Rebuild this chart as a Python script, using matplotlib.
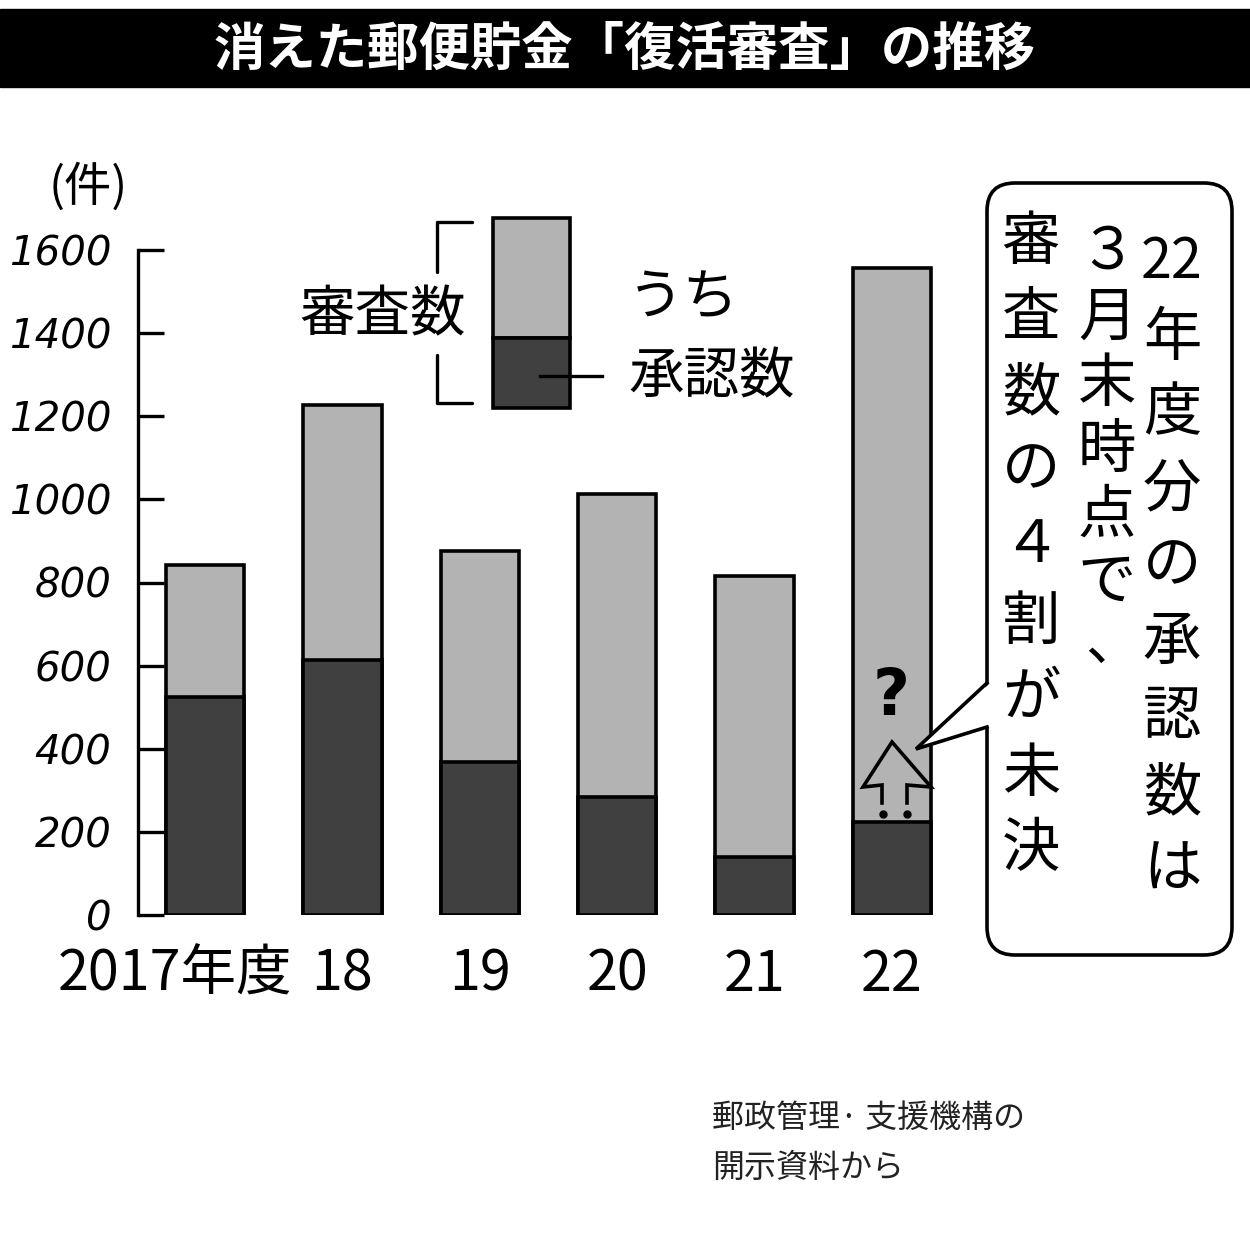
import matplotlib
matplotlib.use("Agg")
import matplotlib.pyplot as plt
from matplotlib.patches import Rectangle, FancyBboxPatch, Polygon
import numpy as np

plt.rcParams['font.family'] = ['Noto Sans CJK JP', 'DejaVu Sans']

# ---- data ----
years = ["2017年度", "18", "19", "20", "21", "22"]
review_total = [842, 1227, 876, 1013, 816, 1557]      # 審査数
approved = [524, 614, 367, 284, 140, 224]             # うち承認数
yticks = [0, 200, 400, 600, 800, 1000, 1200, 1400, 1600]
title = "消えた郵便貯金「復活審査」の推移"
unit = "(件)"
legend_total = "審査数"
legend_app1 = "うち"
legend_app2 = "承認数"
callout_cols = [
    ["22", "年", "度", "分", "の", "承", "認", "数", "は"],
    ["３", "月", "末", "時", "点", "で", "、"],
    ["審", "査", "数", "の", "４", "割", "が", "未", "決"],
]
source = "郵政管理· 支援機構の\n開示資料から"

LIGHT = "#b3b3b3"
DARK = "#404040"

W, H = 1250, 1244
fig = plt.figure(figsize=(W / 100, H / 100), dpi=100)

# ---- main chart axes (pixel geometry of reference) ----
left_px, right_px, top_px, bot_px = 138, 960, 250, 915
ax = fig.add_axes([left_px / W, (H - bot_px) / H,
                   (right_px - left_px) / W, (bot_px - top_px) / H])
ax.patch.set_visible(False)
x = np.arange(len(years))
step = 137.4
ax.set_xlim((left_px - 205) / step, (right_px - 205) / step)
ax.set_ylim(0, 1600)

bw = 0.57
ax.bar(x, review_total, width=bw, color=LIGHT, edgecolor="black", linewidth=2.6, zorder=2)
ax.bar(x, approved, width=bw, color=DARK, edgecolor="black", linewidth=2.6, zorder=3)

for s in ["top", "right", "bottom"]:
    ax.spines[s].set_visible(False)
ax.spines["left"].set_linewidth(2.4)
ax.set_xticks([])
ax.set_yticks(yticks)
ax.set_yticklabels([str(v) for v in yticks],
                   fontfamily="DejaVu Sans", fontstyle="oblique", fontsize=29)
ax.tick_params(axis="y", direction="in", length=19, width=2.4, pad=19)

xt = ax.get_xaxis_transform()
for i, lab in enumerate(years):
    off = -0.22 if i == 0 else 0.0
    ax.text(x[i] + off, -0.090, lab, transform=xt, ha="center", va="center",
            fontsize=40)

# ---- overlay in pixel coordinates ----
ov = fig.add_axes([0, 0, 1, 1])
ov.set_xlim(0, W)
ov.set_ylim(H, 0)
ov.axis("off")
ov.patch.set_visible(False)

# title bar
ov.add_patch(Rectangle((0, 9), W, 78, color="black", zorder=1))
ov.text(625, 49, title, color="white", fontsize=37, fontweight="bold",
        ha="center", va="center", zorder=2)

# unit
ov.text(88, 188, unit, fontsize=34, ha="center", va="center")

# legend key
ov.add_patch(Rectangle((493, 218), 77, 120, facecolor=LIGHT, edgecolor="black", lw=2.6))
ov.add_patch(Rectangle((493, 338), 77, 70, facecolor=DARK, edgecolor="black", lw=2.6))
ov.plot([472, 437, 437], [222, 222, 272], color="black", lw=2.4, solid_capstyle="round")
ov.plot([437, 437, 472], [355, 403, 403], color="black", lw=2.4, solid_capstyle="round")
ov.plot([540, 602], [376, 376], color="black", lw=2.4)
ov.text(383, 316, legend_total, fontsize=40, ha="center", va="center")
ov.text(628, 298, legend_app1, fontsize=40, ha="left", va="center")
ov.text(628, 378, legend_app2, fontsize=40, ha="left", va="center")

# callout box
box = FancyBboxPatch((987, 183), 245, 772,
                     boxstyle="round,pad=0,rounding_size=28",
                     facecolor="white", edgecolor="black", lw=2.6, zorder=5)
ov.add_patch(box)
ov.add_patch(Polygon([(989, 684), (916, 749), (989, 727)], closed=True,
                     facecolor="white", edgecolor="none", zorder=6))
ov.plot([987, 916, 987], [683, 749, 727], color="black", lw=2.6, zorder=7,
        solid_joinstyle="miter")

col_x = [1172, 1107, 1031]
col_y0 = [262, 252, 242]
col_step = [76, 66, 76]
for cx, y0, st, chars in zip(col_x, col_y0, col_step, callout_cols):
    for k, ch in enumerate(chars):
        cy = y0 + k * st
        if ch == "、":
            ov.text(cx + 6, cy - 4, ch, fontsize=40, ha="center", va="center", zorder=8)
        elif ch == "22":
            ov.text(cx, cy, ch, fontsize=40, ha="center", va="center", zorder=8)
        else:
            ov.text(cx, cy, ch, fontsize=42, ha="center", va="center", zorder=8)

# question mark & up arrow on the 2022 bar
ov.text(891, 697, "?", fontsize=46, fontweight="bold", ha="center", va="center",
        fontfamily="DejaVu Sans", zorder=8)
ov.plot([882, 882, 863, 892, 931, 907, 907], [803, 785, 787, 742, 787, 785, 803],
        color="black", lw=2.6, zorder=8, solid_joinstyle="miter")
ov.plot([883, 907], [814, 814], "o", color="black", ms=5, zorder=8)

# source
ov.text(712, 1143, source, fontsize=23, ha="left", va="center",
        linespacing=1.75, color="#222222")

fig.savefig("out.png", dpi=100)
